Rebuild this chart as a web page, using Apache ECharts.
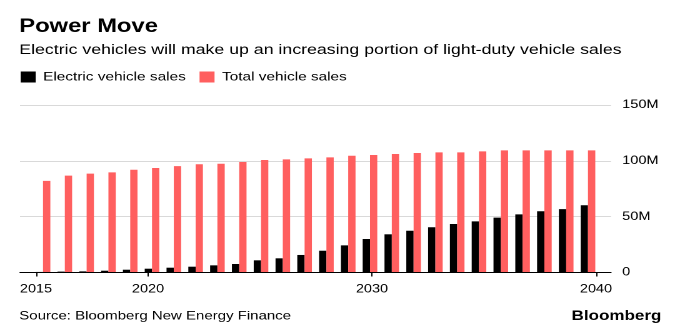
<!DOCTYPE html>
<html>
<head>
<meta charset="utf-8">
<script src="https://cdn.jsdelivr.net/npm/echarts@6/dist/echarts.min.js"></script>
<style>
  html, body { margin: 0; padding: 0; background: #fff; }
  /* The chart is laid out on a narrower canvas and widened horizontally,
     giving the wide lettering of the published graphic. */
  #chart { width: 544px; height: 330px; transform: scaleX(1.25); transform-origin: 0 0; }
</style>
</head>
<body>
<div id="chart"></div>
<script>
// Light-duty vehicle sales outlook, millions of vehicles per year
const years = ['2015','2016','2017','2018','2019','2020','2021','2022','2023','2024','2025','2026','2027',
               '2028','2029','2030','2031','2032','2033','2034','2035','2036','2037','2038','2039','2040'];
const evSales = [0.5, 0.8, 1.0, 1.6, 2.5, 3.4, 4.3, 5.2, 6.4, 7.6, 10.9, 12.7, 15.7,
                 19.5, 24.3, 30.0, 34.2, 37.4, 40.5, 43.4, 45.8, 49.1, 52.1, 54.8, 56.8, 60.2];
const totalSales = [82.0, 86.7, 88.5, 89.7, 92.0, 93.6, 95.3, 96.9, 97.4, 98.9, 100.7, 101.3, 102.2,
                    103.1, 104.6, 105.2, 106.1, 107.0, 107.6, 107.6, 108.5, 109.4, 109.4, 109.4, 109.4, 109.4];
const yearTicks = [2015, 2020, 2030, 2040];
const yTickValues = [0, 50, 100, 150];
const yTickLabels = ['0', '50M', '100M', '150M'];
const seriesNames = ['Electric vehicle sales', 'Total vehicle sales'];

const FONT = '"Liberation Sans", Arial, Helvetica, sans-serif';
const plotTop = 105, plotBottom = 57.5;

const chart = echarts.init(document.getElementById('chart'), null, { renderer: 'canvas', devicePixelRatio: 2 });

chart.setOption({
  animation: false,
  backgroundColor: '#fff',
  textStyle: { fontFamily: FONT },
  legend: {
    data: seriesNames,
    left: 16.5, top: 71,
    itemWidth: 12, itemHeight: 11, itemGap: 11,
    icon: 'rect',
    padding: 0,
    textStyle: { fontSize: 12.3, color: '#000', fontFamily: FONT, padding: [0, 0, 0, 1] }
  },
  graphic: [
    { type: 'text', left: 15.4, top: 17.5,
      style: { text: 'Power Move', font: 'bold 19px ' + FONT, fill: '#000' } },
    { type: 'text', left: 15.4, top: 43,
      style: { text: 'Electric vehicles will make up an increasing portion of light-duty vehicle sales',
               font: '14.2px ' + FONT, fill: '#000' } },
    { type: 'text', left: 15.4, top: 310,
      style: { text: 'Source: Bloomberg New Energy Finance', font: '12px ' + FONT, fill: '#000' } },
    { type: 'text', left: 457.3, top: 309,
      style: { text: 'Bloomberg', font: 'bold 13.6px ' + FONT, fill: '#000' } }
  ],
  grid: [
    { left: 16, right: 55.2, top: plotTop, bottom: plotBottom },   // gridlines and baseline
    { left: 25.7, right: 64.9, top: plotTop, bottom: plotBottom }, // bar bands
    { left: 28.8, right: 67.2, top: plotTop, bottom: plotBottom }  // year ticks
  ],
  xAxis: [
    { gridIndex: 0, type: 'value', min: 0, max: 1, z: 5,
      axisLine: { show: true, lineStyle: { color: '#000', width: 1 } },
      axisTick: { show: false }, axisLabel: { show: false }, splitLine: { show: false } },
    { gridIndex: 1, type: 'category', data: years, show: false },
    { gridIndex: 2, type: 'value', min: 2015, max: 2040, interval: 5,
      axisLine: { show: false },
      axisTick: { show: true, customValues: yearTicks, length: 4, lineStyle: { color: '#000', width: 1 } },
      axisLabel: { customValues: yearTicks, formatter: v => String(v), margin: 11,
                   fontSize: 11.6, color: '#000', fontFamily: FONT },
      splitLine: { show: false } }
  ],
  yAxis: [
    { gridIndex: 0, type: 'value', min: 0, max: 150, interval: 50, position: 'right',
      axisLine: { show: false }, axisTick: { show: false },
      axisLabel: { margin: 9, fontSize: 11.6, color: '#000', fontFamily: FONT,
                   formatter: v => yTickLabels[yTickValues.indexOf(v)] },
      splitLine: { show: true, showMinLine: false, lineStyle: { color: '#d9d9d9', width: 1 } } },
    { gridIndex: 1, type: 'value', min: 0, max: 150, show: false },
    { gridIndex: 2, type: 'value', min: 0, max: 150, show: false }
  ],
  series: [
    { name: seriesNames[0], type: 'bar', xAxisIndex: 1, yAxisIndex: 1, data: evSales,
      itemStyle: { color: '#000' }, barGap: '0%', barCategoryGap: '33%' },
    { name: seriesNames[1], type: 'bar', xAxisIndex: 1, yAxisIndex: 1, data: totalSales,
      itemStyle: { color: '#ff5f5f' }, barGap: '0%', barCategoryGap: '33%' }
  ]
});
</script>
</body>
</html>
